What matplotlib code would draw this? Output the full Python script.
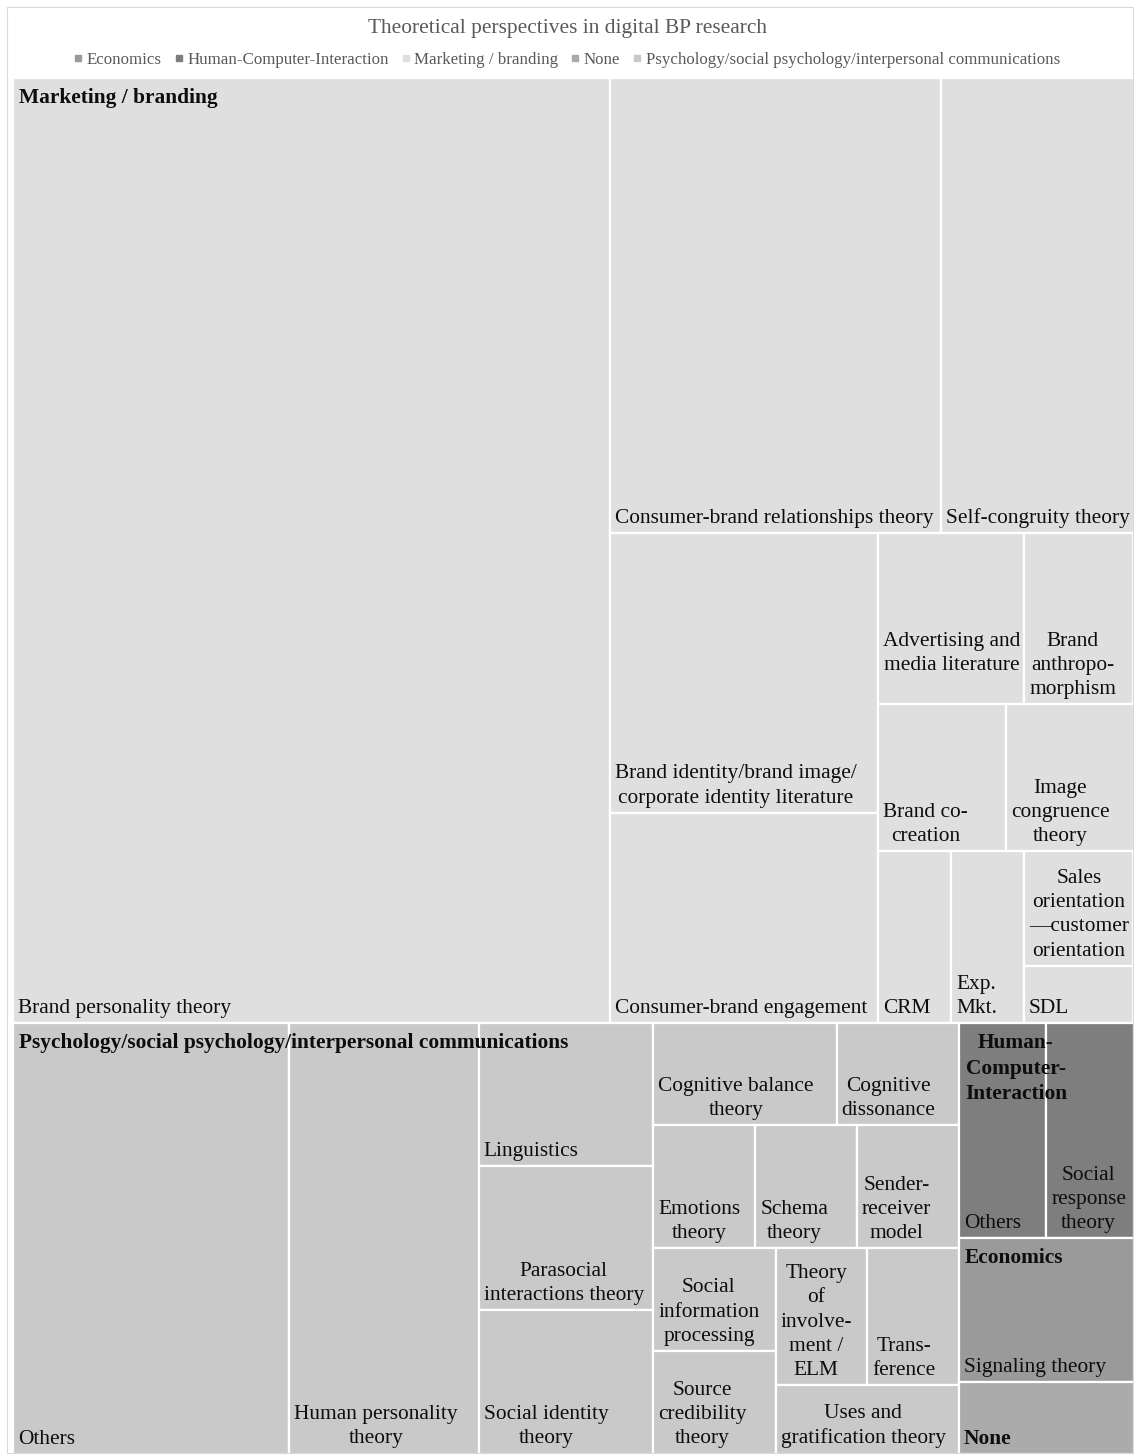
"""Treemap of theoretical perspectives in digital BP research."""

import matplotlib.pyplot as plt
from matplotlib.lines import Line2D
from matplotlib.patches import Rectangle

plt.rcParams["font.family"] = ["Liberation Serif", "DejaVu Serif"]

TITLE = "Theoretical perspectives in digital BP research"

# top-level categories (legend order is alphabetical, layout order by size)
legend_order = [
    "Economics",
    "Human-Computer-Interaction",
    "Marketing / branding",
    "None",
    "Psychology/social psychology/interpersonal communications",
]
group_names = [
    "Marketing / branding",
    "Psychology/social psychology/interpersonal communications",
    "Human-Computer-Interaction",
    "Economics",
    "None",
]
group_headers = [
    "Marketing / branding",
    "Psychology/social psychology/interpersonal communications",
    "Human-\nComputer-\nInteraction",
    "Economics",
    "None",
]
group_colors = ["#dfdfdf", "#c9c9c9", "#7e7e7e", "#9a9a9a", "#ababab"]

marketing_theories = [
    "Brand personality theory",
    "Consumer-brand relationships theory",
    "Self-congruity theory",
    "Brand identity/brand image/\ncorporate identity literature",
    "Consumer-brand engagement",
    "Advertising and\nmedia literature\n ",
    "Brand\nanthropo-\nmorphism",
    "Brand co-\ncreation",
    "Image\ncongruence\ntheory",
    "CRM",
    "Exp.\nMkt.",
    "Sales\norientation\n\u2014customer\norientation",
    "SDL",
]
marketing_counts = [90, 24, 14, 12, 9, 4, 3, 3, 3, 2, 2, 2, 1]
marketing_strips = [1, 2, 2, 2, 2, 1, 1, 1, 1]

psych_theories = [
    "Others",
    "Human personality\ntheory",
    "Linguistics",
    "Parasocial\ninteractions theory",
    "Social identity\ntheory",
    "Cognitive balance\ntheory",
    "Cognitive\ndissonance",
    "Emotions\ntheory",
    "Schema\ntheory",
    "Sender-\nreceiver\nmodel",
    "Social\ninformation\nprocessing",
    "Source\ncredibility\ntheory",
    "Theory\nof\ninvolve-\nment /\nELM",
    "Trans-\nference",
    "Uses and\ngratification theory",
]
psych_counts = [19, 13, 4, 4, 4, 3, 2, 2, 2, 2, 2, 2, 2, 2, 2]
psych_strips = [1, 1, 3, 2, 3, 2, 2, 1]

hci_theories = ["Others", "Social\nresponse\ntheory"]
hci_counts = [3, 3]
hci_strips = [2]

econ_theories = ["Signaling theory"]
econ_counts = [4]
econ_strips = [1]

none_theories = [""]
none_counts = [2]
none_strips = [1]

group_theories = [marketing_theories, psych_theories, hci_theories, econ_theories, none_theories]
group_counts = [marketing_counts, psych_counts, hci_counts, econ_counts, none_counts]
group_strips = [marketing_strips, psych_strips, hci_strips, econ_strips, none_strips]


def layout_strips(values, strip_sizes, x, y, w, h):
    """Place values in strips laid along the shorter side of the space left."""
    rects = []
    remaining = float(sum(values))
    i = 0
    for n in strip_sizes:
        chunk = values[i:i + n]
        s = float(sum(chunk))
        frac = s / remaining
        if w >= h:
            cw = w * frac
            yy = y
            for v in chunk:
                ch = h * v / s
                rects.append((x, yy, cw, ch))
                yy += ch
            x += cw
            w -= cw
        else:
            rh = h * frac
            xx = x
            for v in chunk:
                cw = w * v / s
                rects.append((xx, y, cw, rh))
                xx += cw
            y += rh
            h -= rh
        remaining -= s
        i += n
    return rects


FIG_W, FIG_H = 1134, 1456
fig = plt.figure(figsize=(FIG_W / 100, FIG_H / 100), dpi=100)

# light frame round the chart area
fig.patches.append(
    Rectangle((7 / FIG_W, 3 / FIG_H), 1126 / FIG_W, 1446 / FIG_H,
              transform=fig.transFigure, fill=False, edgecolor="#d9d9d9", lw=0.8)
)

left, right, top, bottom = 13, 1133.5, 78, 1453.5
W, H = right - left, bottom - top
ax = fig.add_axes([left / FIG_W, 1 - bottom / FIG_H, W / FIG_W, H / FIG_H])
ax.set_xlim(0, W)
ax.set_ylim(H, 0)
ax.axis("off")

group_totals = [sum(c) for c in group_counts]
group_rects = layout_strips(group_totals, [1] * len(group_totals), 0, 0, W, H)

LEAF_FS = 15.4
HEAD_FS = 15.4
LINE_SP = 1.38

for gi, (gx, gy, gw, gh) in enumerate(group_rects):
    color = group_colors[gi]
    leaves = layout_strips(group_counts[gi], group_strips[gi], gx, gy, gw, gh)
    for (lx, ly, lw, lh), name in zip(leaves, group_theories[gi]):
        ax.add_patch(Rectangle((lx, ly), lw, lh, facecolor=color,
                               edgecolor="white", linewidth=1.6))
        if name:
            ax.text(lx + 5, ly + lh - 5, name, ha="left", va="bottom",
                    multialignment="center", fontsize=LEAF_FS, color="#0d0d0d",
                    linespacing=LINE_SP)
    if group_theories[gi] == [""]:
        # category without sub-theories: header sits at the bottom
        ax.text(gx + 5, gy + gh - 5, group_headers[gi], ha="left", va="bottom",
                fontsize=HEAD_FS, fontweight="bold", color="#0d0d0d")
    else:
        ax.text(gx + 6, gy + 10, group_headers[gi], ha="left", va="top",
                multialignment="center", fontsize=HEAD_FS, fontweight="bold",
                color="#0d0d0d", linespacing=LINE_SP)

fig.text(0.5, 1 - 29 / FIG_H, TITLE, ha="center", va="center",
         fontsize=15.4, color="#595959")

legend_colors = [group_colors[group_names.index(n)] for n in legend_order]
handles = [
    Line2D([], [], marker="s", color=c, linestyle="none", markersize=4.5)
    for c in legend_colors
]
fig.legend(handles, legend_order, loc="center", bbox_to_anchor=(0.5, 1 - 60 / FIG_H),
           ncol=5, frameon=False, fontsize=12.2, handletextpad=0.25,
           columnspacing=0.75, handlelength=0.5, labelcolor="#595959")

fig.savefig("out.png", dpi=100)
